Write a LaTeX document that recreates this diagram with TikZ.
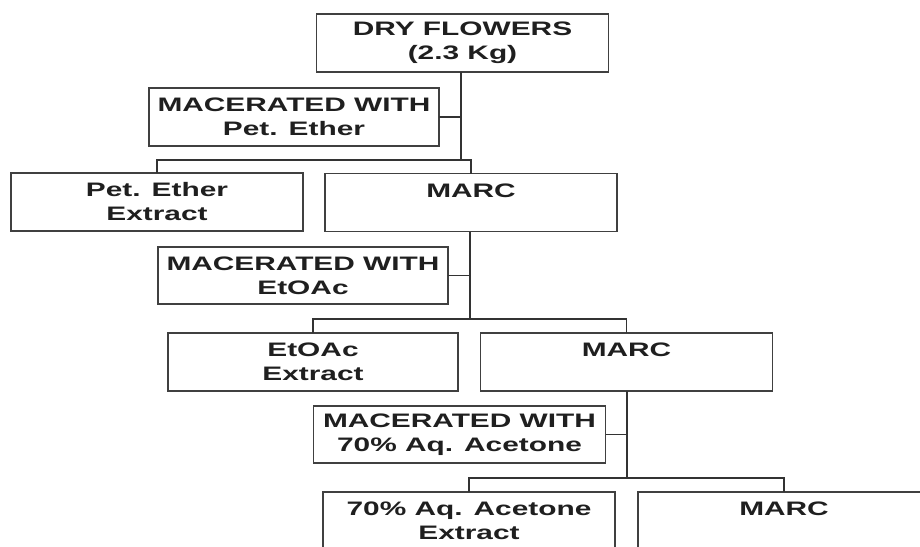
\documentclass[tikz,border=0pt]{standalone}
\usepackage{fontspec}
\newfontfamily\boxfont{Liberation Sans}[FakeStretch=1.53]
\begin{document}
\begin{tikzpicture}[x=1pt,y=-1pt,
  box/.style={draw=black!75, line width=1.2pt, minimum width=292pt, minimum height=58pt,
    inner sep=0pt, outer sep=0pt, align=center,
    font=\boxfont\bfseries\fontsize{19.5}{24}\selectfont, text=black!88},
  conn/.style={draw=black!80, line width=1.3pt}]
\useasboundingbox (0,0) rectangle (920,546);
\clip (0,0) rectangle (920,546);
\fill[white] (0,0) rectangle (920,546);

\node[box] (dry)    at (462.5,43)  {DRY FLOWERS\\(2.3 Kg)};
\node[box, minimum width=290pt] (mac1) at (294,117) {MACERATED WITH\\Pet. Ether};
\node[box] (petext) at (157,202)   {Pet. Ether\\Extract};
\node[box] (marc1)  at (471,202.5) {MARC\\~};
\node[box, minimum width=290pt, minimum height=57pt] (mac2) at (303,275.5) {MACERATED WITH\\EtOAc};
\node[box, minimum width=290pt] (etext)  at (313,362)   {EtOAc\\Extract};
\node[box] (marc2)  at (626.5,362) {MARC\\~};
\node[box, minimum height=57pt] (mac3) at (459.5,434.5) {MACERATED WITH\\70\% Aq. Acetone};
\node[box] (acext)  at (469,521)   {70\% Aq. Acetone\\Extract};
\node[box] (marc3)  at (784,521)   {MARC\\~};

\coordinate (b1) at (461,160);
\coordinate (b2) at (470,319);
\coordinate (b3) at (627,478);

% stage 1
\draw[conn] (dry.south -| b1) -- (b1);
\draw[conn] (mac1.east) -- (mac1.east -| b1);
\draw[conn] (petext.north) -- (petext.north |- b1) -- (marc1.north |- b1) -- (marc1.north);
% stage 2
\draw[conn] (marc1.south -| b2) -- (b2);
\draw[conn] (mac2.east) -- (mac2.east -| b2);
\draw[conn] (etext.north) -- (etext.north |- b2) -- (marc2.north |- b2) -- (marc2.north);
% stage 3
\draw[conn] (marc2.south -| b3) -- (b3);
\draw[conn] (mac3.east) -- (mac3.east -| b3);
\draw[conn] (acext.north) -- (acext.north |- b3) -- (marc3.north |- b3) -- (marc3.north);
\end{tikzpicture}
\end{document}
